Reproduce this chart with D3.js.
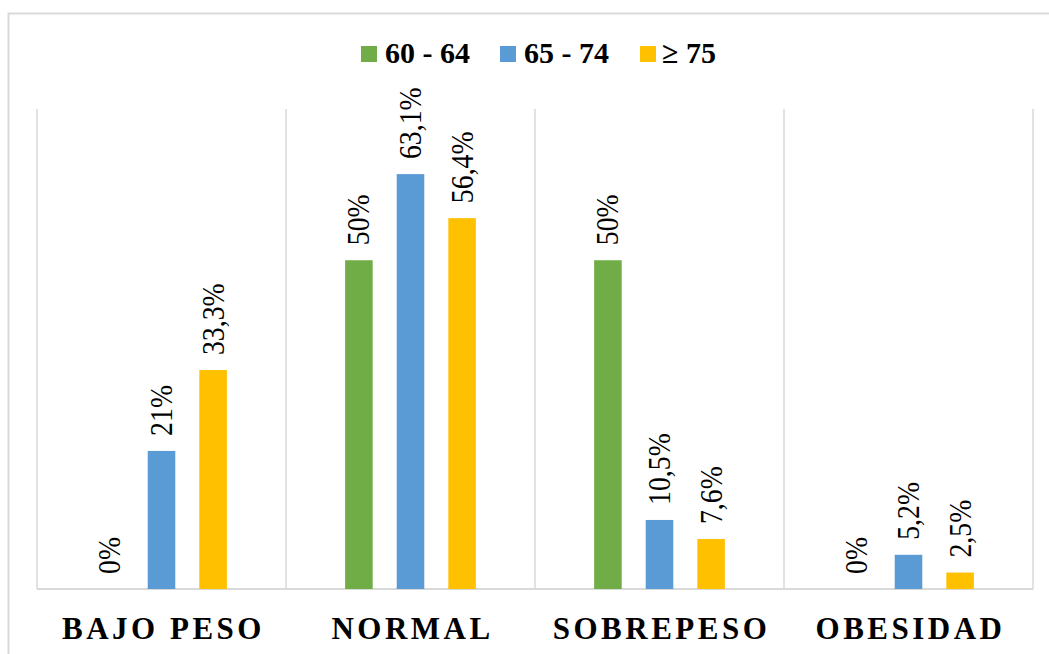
<!DOCTYPE html>
<html>
<head>
<meta charset="utf-8">
<script src="https://cdn.jsdelivr.net/npm/d3@7"></script>
<style>
  html, body { margin: 0; padding: 0; background: #ffffff; }
  svg { display: block; }
  svg text { font-family: "Liberation Serif", "Times New Roman", Times, serif; }
</style>
</head>
<body>
<svg id="chart" width="1049" height="654"></svg>
<script>
// Estado nutricional por grupo de edad (%)
const categories = ["BAJO PESO", "NORMAL", "SOBREPESO", "OBESIDAD"];
const seriesNames = ["60 - 64", "65 - 74", "\u2265 75"];
const values60_64 = [0, 50, 50, 0];
const values65_74 = [21, 63.1, 10.5, 5.2];
const values75 = [33.3, 56.4, 7.6, 2.5];
const seriesColors = ["#70ad47", "#5b9bd5", "#ffc000"];

const seriesValues = [values60_64, values65_74, values75];

const svg = d3.select("#chart");
const W = 1049, H = 654;
const plot = { left: 37, right: 1033, top: 109, bottom: 589 };
const grid = "#d9d9d9";

// outer chart frame
svg.append("rect")
  .attr("x", 8.5).attr("y", 13.5)
  .attr("width", W + 20).attr("height", H + 20)
  .attr("fill", "none").attr("stroke", grid).attr("stroke-width", 2);

const x0 = d3.scaleBand().domain(categories).range([plot.left, plot.right]).padding(0);
const x1 = d3.scaleBand().domain(seriesNames).range([0, x0.bandwidth()])
  .paddingInner(0.466).paddingOuter(1.146);
const y = d3.scaleLinear().domain([0, 73]).range([plot.bottom, plot.top]);

// vertical separators between categories
const bounds = categories.map(c => x0(c)).concat([plot.right]);
svg.append("g").selectAll("line").data(bounds).join("line")
  .attr("x1", d => d).attr("x2", d => d)
  .attr("y1", plot.top).attr("y2", plot.bottom)
  .attr("stroke", grid).attr("stroke-width", 1.5);

// baseline
svg.append("line")
  .attr("x1", plot.left).attr("x2", plot.right)
  .attr("y1", plot.bottom).attr("y2", plot.bottom)
  .attr("stroke", grid).attr("stroke-width", 2);

const fmt = v => (Number.isInteger(v) ? String(v) : v.toFixed(1).replace(".", ",")) + "%";

const rows = [];
categories.forEach((c, i) => {
  seriesNames.forEach((s, j) => {
    rows.push({ cat: c, series: s, value: seriesValues[j][i], color: seriesColors[j] });
  });
});

const g = svg.append("g");
g.selectAll("rect.bar").data(rows).join("rect")
  .attr("class", "bar")
  .attr("x", d => x0(d.cat) + x1(d.series))
  .attr("width", x1.bandwidth())
  .attr("y", d => y(d.value))
  .attr("height", d => y(0) - y(d.value))
  .attr("fill", d => d.color);

// rotated value labels (glyphs slightly widened across the bar)
const fs = 27;
const widen = 1.15;
g.selectAll("text.val").data(rows).join("text")
  .attr("class", "val")
  .attr("transform", d => {
    const cx = x0(d.cat) + x1(d.series) + x1.bandwidth() / 2 + fs * 0.34 * widen;
    const cy = y(d.value) - 15;
    return `translate(${cx},${cy}) rotate(-90) scale(1.03,${widen})`;
  })
  .attr("font-size", fs)
  .attr("fill", "#000")
  .text(d => fmt(d.value));

// category labels
svg.append("g").selectAll("text").data(categories).join("text")
  .attr("x", d => x0(d) + x0.bandwidth() / 2 + 2)
  .attr("y", 639)
  .attr("text-anchor", "middle")
  .attr("font-weight", "bold")
  .attr("font-size", 31)
  .attr("letter-spacing", 3.5)
  .attr("fill", "#000")
  .text(d => d);

// legend
const legendItems = [
  { name: seriesNames[0], color: seriesColors[0], x: 361 },
  { name: seriesNames[1], color: seriesColors[1], x: 500 },
  { name: seriesNames[2], color: seriesColors[2], x: 640 }
];
const lg = svg.append("g").selectAll("g").data(legendItems).join("g")
  .attr("transform", d => `translate(${d.x},0)`);
lg.append("rect").attr("x", 0).attr("y", 46).attr("width", 16).attr("height", 16)
  .attr("fill", d => d.color);
lg.append("text").attr("x", d => d.name.startsWith("\u2265") ? 22 : 24).attr("y", 63)
  .attr("font-weight", "bold").attr("font-size", 30)
  .attr("fill", "#000")
  .text(d => d.name);
</script>
</body>
</html>
